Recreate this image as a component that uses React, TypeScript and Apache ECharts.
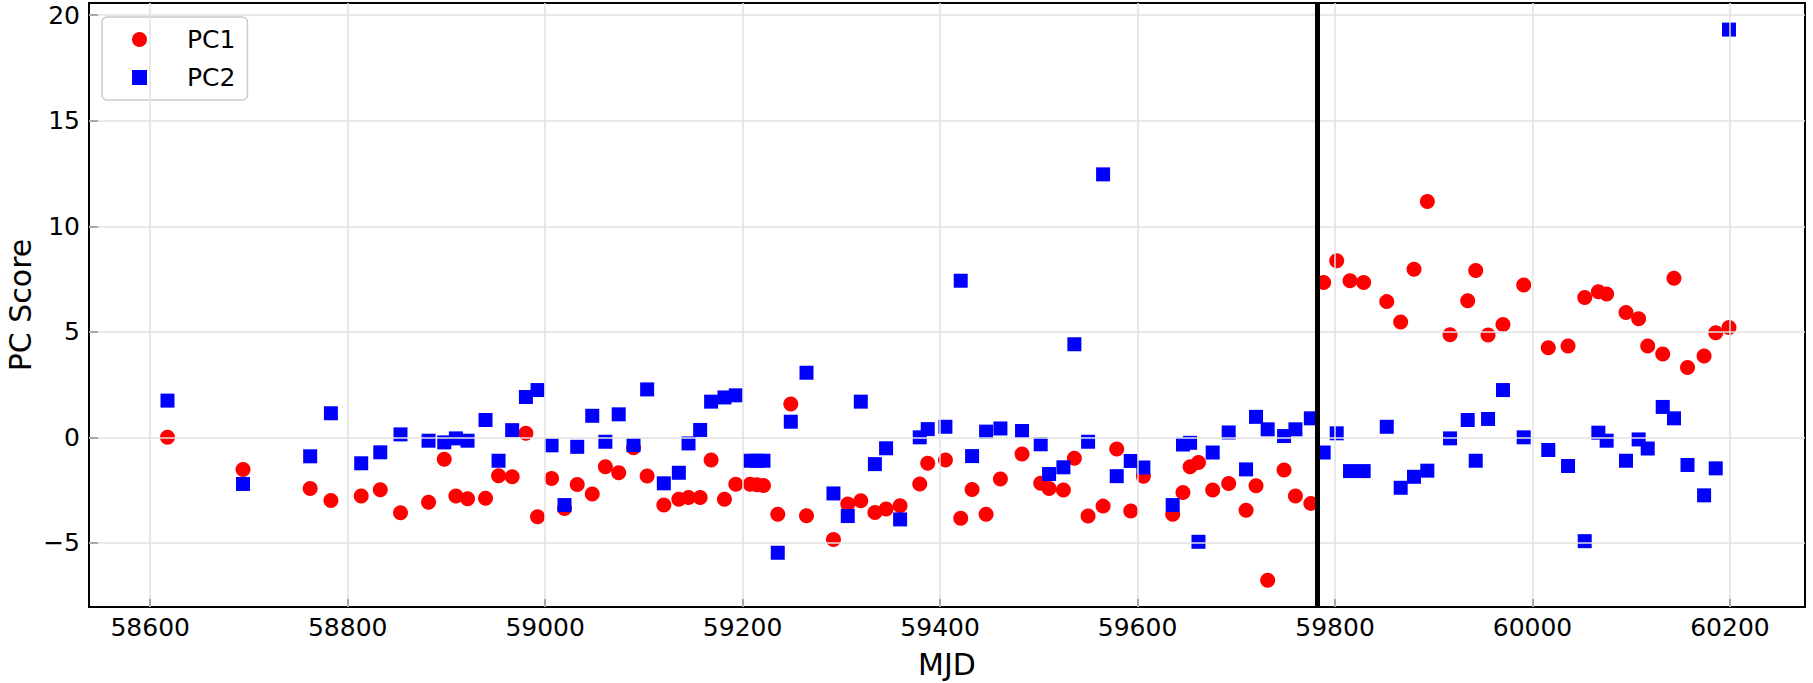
import React, { useEffect, useRef } from "react";
import * as echarts from "echarts";

const mjd = [
  58617.5, 58694, 58762, 58783,
  58813.7, 58833, 58853.5, 58881.9, 58897.8, 58909.6, 58921.4, 58939.6, 58952.8, 58966.6, 58980.5, 58992.3, 59006.5, 59019.6, 59032.5, 59047.7,
  59061, 59074.5, 59089.5, 59103.3, 59120.2, 59135.4, 59145.2, 59157, 59168.1, 59181.6, 59193.1, 59207.6, 59214.4, 59221.1, 59235.6, 59248.8, 59264.7, 59292, 59306.5, 59319.7,
  59334, 59345.3, 59359.5, 59379.4, 59387.5, 59405.4, 59420.9, 59432.4, 59446.6, 59461.1, 59483, 59501.9, 59510.4, 59524.9, 59536, 59549.9, 59565.1, 59578.9, 59593.1,
  59605.9, 59635.6, 59646, 59653.2, 59661.7, 59676.1, 59692.3, 59709.9, 59720, 59731.8, 59748.4, 59759.9, 59775.5, 59788.5, 59801.7, 59815.2, 59829, 59852.4,
  59866.5, 59880, 59893.5, 59916.5, 59934.4, 59942.5, 59955, 59970.1, 59991.1, 60016, 60036, 60052.9, 60066.7, 60075.1, 60094.7, 60107.5, 60116.7,
  60131.9, 60143.3, 60157, 60173.8, 60185.6, 60199,
];

const pc1 = [
  0.0, -1.52, -2.42, -2.99,
  -2.78, -2.48, -3.57, -3.08, -1.04, -2.78, -2.91, -2.89, -1.82, -1.87, 0.19, -3.76, -1.95, -3.37, -2.23, -2.69,
  -1.39, -1.68, -0.5, -1.83, -3.21, -2.94, -2.85, -2.85, -1.08, -2.93, -2.22, -2.22, -2.25, -2.28, -3.65, 1.58, -3.72, -4.84, -3.16, -3.0,
  -3.56, -3.4, -3.24, -2.21, -1.23, -1.08, -3.84, -2.47, -3.65, -1.98, -0.79, -2.18, -2.42, -2.5, -0.99, -3.73, -3.26, -0.55, -3.49,
  -1.84, -3.65, -2.61, -1.39, -1.19, -2.5, -2.19, -3.45, -2.3, -6.77, -1.55, -2.78, -3.13, 7.34, 8.37, 7.42, 7.34, 6.43,
  5.46, 7.96, 11.17, 4.86, 6.47, 7.91, 4.85, 5.35, 7.22, 4.25, 4.33, 6.62, 6.9, 6.79, 5.91, 5.62, 4.33,
  3.95, 7.54, 3.31, 3.85, 4.95, 5.2,
];

const pc2 = [
  1.74, -2.21, -0.9, 1.14,
  -1.23, -0.71, 0.14, -0.16, -0.24, -0.05, -0.16, 0.82, -1.11, 0.34, 1.91, 2.24, -0.38, -3.21, -0.45, 1.02,
  -0.21, 1.09, -0.37, 2.27, -2.18, -1.68, -0.29, 0.35, 1.69, 1.89, 1.99, -1.11, -1.11, -1.11, -5.47, 0.74, 3.06, -2.66, -3.73, 1.69,
  -1.27, -0.52, -3.89, 0.0, 0.39, 0.5, 7.42, -0.89, 0.27, 0.42, 0.3, -0.33, -1.74, -1.42, 4.41, -0.21, 12.46, -1.84, -1.12,
  -1.43, -3.21, -0.34, -0.26, -4.95, -0.72, 0.23, -1.52, 0.97, 0.38, 0.06, 0.38, 0.9, -0.72, 0.19, -1.6, -1.6, 0.5,
  -2.39, -1.87, -1.58, -0.05, 0.82, -1.11, 0.87, 2.24, 0.0, -0.6, -1.36, -4.92, 0.22, -0.16, -1.11, -0.1, -0.53,
  1.44, 0.9, -1.31, -2.75, -1.47, 19.32,
];

const xTicks = [58600, 58800, 59000, 59200, 59400, 59600, 59800, 60000, 60200];
const yTicks = [-5, 0, 5, 10, 15, 20];
const splitMJD = 59782;

const FONT = "DejaVu Sans";

export default function App() {
  const ref = useRef<HTMLDivElement>(null);
  useEffect(() => {
    if (!ref.current) return;
    const chart = echarts.init(ref.current, null, { renderer: "svg" });
    const gridStyle = { color: "#e2e2e2", width: 1.5, type: "solid" as const };
    chart.setOption({
      animation: false,
      backgroundColor: "#ffffff",
      textStyle: { fontFamily: FONT },
      grid: {
        left: 89,
        right: 8,
        top: 3,
        bottom: 76,
        containLabel: false,
        outerBoundsMode: "none",
        show: true,
        borderColor: "#000000",
        borderWidth: 2,
        backgroundColor: "transparent",
      },
      legend: {
        data: ["PC1", "PC2"],
        orient: "vertical",
        left: 102,
        top: 17,
        padding: [10, 12, 10, 30],
        itemWidth: 15,
        itemHeight: 15,
        itemGap: 13,
        backgroundColor: "rgba(255,255,255,0.8)",
        borderColor: "#cccccc",
        borderWidth: 1.5,
        borderRadius: 5,
        textStyle: {
          fontFamily: FONT,
          fontSize: 25,
          lineHeight: 25,
          color: "#000000",
          padding: [0, 0, 0, 35],
        },
      },
      xAxis: {
        type: "value",
        min: 58538,
        max: 60276,
        name: "MJD",
        nameLocation: "middle",
        nameGap: 42,
        nameMoveOverlap: false,
        nameTextStyle: { fontFamily: FONT, fontSize: 30, color: "#000000" },
        axisLine: { show: true, onZero: false, lineStyle: { color: "#000000", width: 2 } },
        axisTick: {
          show: true,
          inside: true,
          length: 8,
          lineStyle: { color: "#000000", width: 2 },
          customValues: xTicks,
        },
        axisLabel: {
          show: true,
          margin: 8,
          fontFamily: FONT,
          fontSize: 25,
          color: "#000000",
          customValues: xTicks,
          formatter: (v: number) => String(v),
        },
        splitLine: { show: false },
      },
      yAxis: {
        type: "value",
        min: -8.04,
        max: 20.58,
        name: "PC Score",
        nameLocation: "middle",
        nameGap: 57,
        nameRotate: 90,
        nameMoveOverlap: false,
        nameTextStyle: { fontFamily: FONT, fontSize: 30, lineHeight: 24, color: "#000000" },
        axisLine: { show: true, onZero: false, lineStyle: { color: "#000000", width: 2 } },
        axisTick: {
          show: true,
          inside: true,
          length: 9,
          lineStyle: { color: "#000000", width: 2 },
          customValues: yTicks,
        },
        axisLabel: {
          show: true,
          margin: 9,
          fontFamily: FONT,
          fontSize: 25,
          color: "#000000",
          customValues: yTicks,
          formatter: (v: number) => String(v).replace("-", "\u2212"),
        },
        splitLine: { show: false },
      },
      series: [
        {
          name: "grid",
          type: "scatter",
          data: [],
          z: 1,
          silent: true,
          markLine: {
            silent: true,
            symbol: ["none", "none"],
            label: { show: false },
            lineStyle: gridStyle,
            emphasis: { disabled: true },
            data: [
              ...xTicks.map((v) => ({ xAxis: v })),
              ...yTicks.map((v) => ({ yAxis: v })),
            ],
          },
        },
        {
          name: "PC1",
          type: "scatter",
          symbol: "circle",
          symbolSize: 15,
          z: 2,
          itemStyle: { color: "#ff0000", opacity: 1 },
          data: mjd.map((m, i) => [m, pc1[i]]),
        },
        {
          name: "PC2",
          type: "scatter",
          symbol: "rect",
          symbolSize: 14,
          z: 3,
          itemStyle: { color: "#0000ff", opacity: 1 },
          data: mjd.map((m, i) => [m, pc2[i]]),
        },
        {
          name: "split",
          type: "scatter",
          data: [],
          z: 4,
          silent: true,
          markLine: {
            silent: true,
            symbol: ["none", "none"],
            label: { show: false },
            lineStyle: { color: "#000000", width: 5, type: "solid" },
            emphasis: { disabled: true },
            data: [{ xAxis: splitMJD }],
          },
        },
      ],
    });
    return () => chart.dispose();
  }, []);
  return (
    <div
      ref={ref}
      style={{ position: "fixed", left: 0, top: 0, width: 1813, height: 683, background: "#fff" }}
    />
  );
}
